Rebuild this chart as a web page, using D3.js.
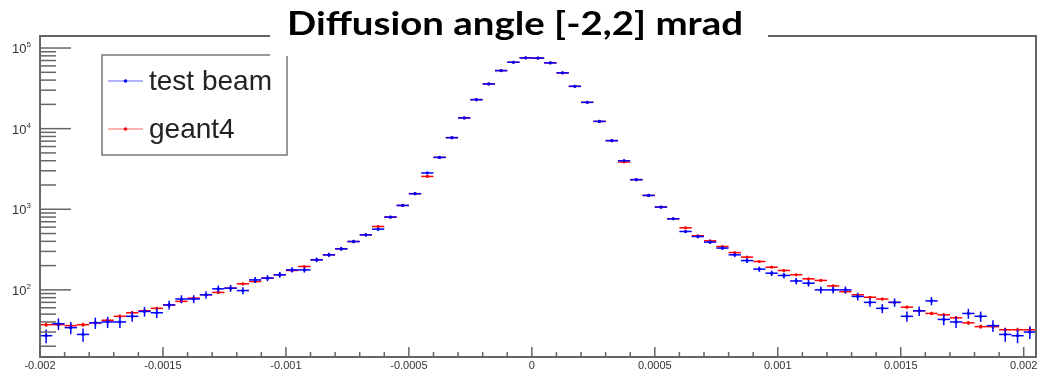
<!DOCTYPE html>
<html>
<head>
<meta charset="utf-8">
<script src="https://cdn.jsdelivr.net/npm/d3@7"></script>
<style>
  body { margin: 0; background: #fff; }
  svg { display: block; filter: blur(0.4px); }
</style>
</head>
<body>
<script>
/* ---------------------------- */
/* DATA                         */
/* ---------------------------- */

// Histogram binning (81 bins of 0.05 mrad starting at -2 mrad)
const nBins = 81;
const xMin = -0.002;
const binWidth = 0.00005;

const chartTitle = "Diffusion angle [-2,2] mrad";
const seriesNames = ["test beam", "geant4"];

const xTicks = [-0.002, -0.0015, -0.001, -0.0005, 0, 0.0005, 0.001, 0.0015, 0.002];
const xTickLabels = ["-0.002", "-0.0015", "-0.001", "-0.0005", "0", "0.0005", "0.001", "0.0015", "0.002"];
const yDecades = [2, 3, 4, 5]; // labelled as 10^k

// Counts per bin
const testBeam = [
  27, 38, 34, 28, 39, 40, 40, 47, 54, 52,
  65, 77, 77, 87, 103, 105, 98, 133, 140, 154,
  177, 177, 236, 272, 323, 398, 482, 567, 800, 1115,
  1560, 2820, 4400, 7730, 13600, 22900, 35900, 52500, 66600, 75500,
  75000, 65500, 49200, 33500, 21200, 12300, 7100, 4000, 2330, 1485,
  1065, 762, 530, 459, 391, 330, 272, 231, 181, 161,
  151, 129, 121, 100, 100, 100, 83, 70, 59, 70,
  47, 55, 73, 43, 40, 51, 47, 36, 28, 27,
  30
];
const geant4 = [
  37, 37, 36, 37, 39, 42, 47, 52, 55, 59,
  65, 72, 79, 87, 93, 105, 119, 127, 140, 154,
  174, 195, 236, 272, 323, 398, 482, 611, 800, 1115,
  1560, 2555, 4400, 7730, 13600, 22900, 35900, 52500, 66600, 75500,
  75000, 65500, 49200, 33500, 21200, 12300, 7100, 3855, 2330, 1485,
  1065, 762, 589, 469, 406, 345, 290, 255, 225, 191,
  174, 154, 137, 131, 112, 95, 87, 81, 77, 70,
  61, 55, 51, 49, 45, 39, 35, 35, 32, 32,
  32
];

/* ---------------------------- */
/* CANVAS                       */
/* ---------------------------- */

const W = 1039, H = 376;
const frame = {left: 40, right: 1036, top: 36, bottom: 357};

const svg = d3.select("body").append("svg")
    .attr("width", W)
    .attr("height", H);

const x = d3.scaleLinear()
    .domain([xMin, xMin + nBins * binWidth])
    .range([frame.left, frame.right]);

const y = d3.scaleLog()
    .domain([14.7, 141000])
    .range([frame.bottom, frame.top]);

const axisColor = "#666";

/* ---------------------------- */
/* DATA POINTS                  */
/* ---------------------------- */

function drawSeries(values, color, errScale) {
    const g = svg.append("g").attr("stroke", color).attr("fill", color);
    values.forEach((v, i) => {
        const lo = xMin + i * binWidth;
        const cx = x(lo + binWidth / 2);
        const err = Math.sqrt(v) * errScale;
        // horizontal bar (bin width)
        g.append("line")
            .attr("x1", x(lo)).attr("x2", x(lo + binWidth))
            .attr("y1", y(v)).attr("y2", y(v))
            .attr("stroke-width", 1.5);
        // vertical error bar
        g.append("line")
            .attr("x1", cx).attr("x2", cx)
            .attr("y1", y(Math.max(v - err, 15))).attr("y2", y(v + err))
            .attr("stroke-width", 1.5);
        g.append("circle")
            .attr("cx", cx).attr("cy", y(v))
            .attr("r", 1.6)
            .attr("stroke", "none");
    });
}

drawSeries(geant4, "#ff0000", 0.35);
drawSeries(testBeam, "#0000ff", 1);

/* ---------------------------- */
/* FRAME + AXES                 */
/* ---------------------------- */

svg.append("rect")
    .attr("x", frame.left).attr("y", frame.top)
    .attr("width", frame.right - frame.left)
    .attr("height", frame.bottom - frame.top)
    .attr("fill", "none")
    .attr("stroke", axisColor)
    .attr("stroke-width", 2);

// x ticks (major + minor every 0.1 mrad)
const xMinor = d3.range(-20, 21).map(i => i * 0.0001);
svg.append("g").selectAll("line")
    .data(xMinor)
    .join("line")
        .attr("x1", d => x(d)).attr("x2", d => x(d))
        .attr("y1", frame.bottom)
        .attr("y2", (d, i) => frame.bottom - (i % 5 === 0 ? 10 : 5))
        .attr("stroke", axisColor)
        .attr("stroke-width", 1.5);

svg.append("g").selectAll("text")
    .data(xTicks)
    .join("text")
        .attr("x", d => x(d))
        .attr("y", 369)
        .attr("text-anchor", "middle")
        .attr("font-family", "Liberation Sans, Arial, sans-serif")
        .attr("font-size", 11)
        .attr("fill", "#333")
        .text((d, i) => xTickLabels[i]);

// y ticks (log): majors at decades, minors at 2..9
const yMajor = yDecades.map(k => Math.pow(10, k));
const yMinorVals = [];
[1, 2, 3, 4, 5].forEach(k => {
    for (let m = 2; m <= 9; m++) {
        const v = m * Math.pow(10, k);
        if (v > y.domain()[0] && v < y.domain()[1]) yMinorVals.push(v);
    }
});

svg.append("g").selectAll("line")
    .data(yMinorVals)
    .join("line")
        .attr("x1", frame.left).attr("x2", frame.left + 16)
        .attr("y1", d => y(d)).attr("y2", d => y(d))
        .attr("stroke", axisColor)
        .attr("stroke-width", 1.5);

svg.append("g").selectAll("line")
    .data(yMajor)
    .join("line")
        .attr("x1", frame.left).attr("x2", frame.left + 31)
        .attr("y1", d => y(d)).attr("y2", d => y(d))
        .attr("stroke", axisColor)
        .attr("stroke-width", 1.5);

const yLab = svg.append("g").selectAll("text")
    .data(yDecades)
    .join("text")
        .attr("x", 12)
        .attr("y", d => y(Math.pow(10, d)) + 5)
        .attr("font-family", "Liberation Sans, Arial, sans-serif")
        .attr("font-size", 13)
        .attr("fill", "#333");
yLab.append("tspan").text("10");
yLab.append("tspan")
    .attr("dy", -6)
    .attr("font-size", 8)
    .text(d => d);

/* ---------------------------- */
/* LEGEND                       */
/* ---------------------------- */

const legend = svg.append("g");
legend.append("rect")
    .attr("x", 102).attr("y", 55)
    .attr("width", 185).attr("height", 100)
    .attr("fill", "#fff")
    .attr("stroke", "#777")
    .attr("stroke-width", 1.5);

const legColors = ["#0000ff", "#ff0000"];
seriesNames.forEach((name, i) => {
    const ly = 81 + i * 48;
    legend.append("line")
        .attr("x1", 108).attr("x2", 143)
        .attr("y1", ly).attr("y2", ly)
        .attr("stroke", legColors[i])
        .attr("stroke-opacity", 0.6)
        .attr("stroke-width", 1.2);
    legend.append("circle")
        .attr("cx", 125.5).attr("cy", ly).attr("r", 1.8)
        .attr("fill", legColors[i]);
    legend.append("text")
        .attr("x", 149).attr("y", ly + 9)
        .attr("font-family", "Liberation Sans, Arial, sans-serif")
        .attr("font-size", 28)
        .attr("fill", "#222")
        .text(name);
});

/* ---------------------------- */
/* TITLE                        */
/* ---------------------------- */

svg.append("rect")
    .attr("x", 270).attr("y", 0)
    .attr("width", 498).attr("height", 56)
    .attr("fill", "#fff");

svg.append("text")
    .attr("x", 287).attr("y", 35)
    .attr("font-family", "Lato, sans-serif")
    .attr("font-weight", "bold")
    .attr("font-size", 33)
    .attr("textLength", 456)
    .attr("lengthAdjust", "spacingAndGlyphs")
    .attr("fill", "#000")
    .text(chartTitle);
</script>
</body>
</html>
